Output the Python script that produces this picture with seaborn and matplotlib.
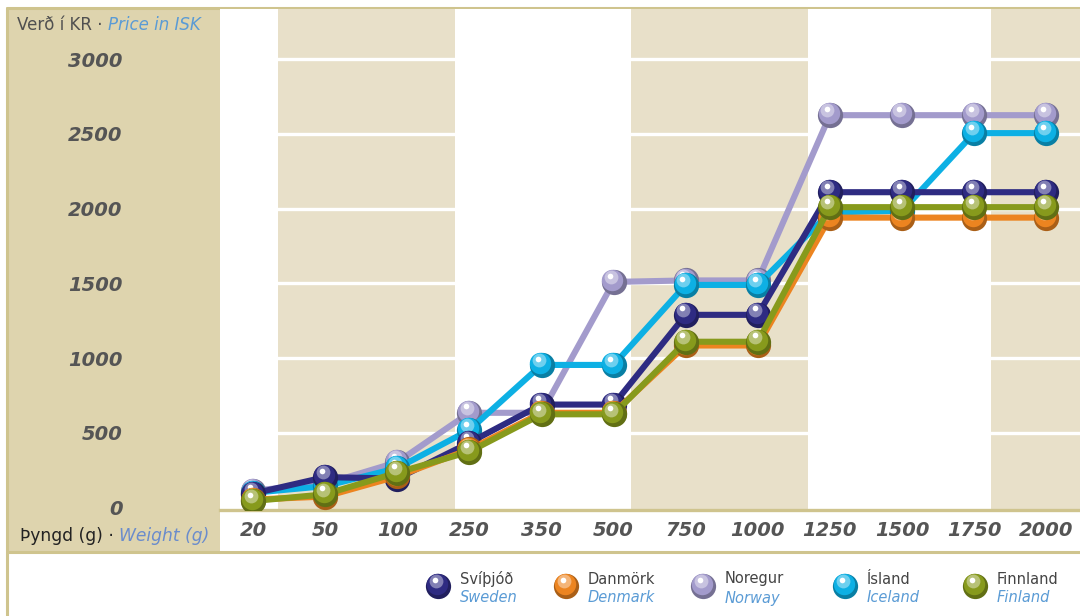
import numpy as np
import pandas as pd
import matplotlib
matplotlib.use('Agg')
import matplotlib.pyplot as plt
import matplotlib.colors as mcolors
from matplotlib.transforms import offset_copy
from matplotlib.lines import Line2D
from matplotlib.patches import Rectangle
import seaborn as sns

# data (price in ISK by weight in grams)
weights = ['20', '50', '100', '250', '350', '500', '750', '1000', '1250', '1500', '1750', '2000']
sweden = [95, 205, 195, 435, 690, 690, 1290, 1290, 2110, 2110, 2110, 2110]
denmark = [55, 75, 210, 390, 635, 635, 1085, 1085, 1940, 1940, 1940, 1940]
norway = [115, 160, 305, 635, 635, 1510, 1520, 1520, 2625, 2625, 2625, 2625]
iceland = [100, 145, 265, 520, 955, 955, 1490, 1490, 1975, 1985, 2505, 2505]
finland = [45, 90, 235, 375, 625, 625, 1110, 1110, 2010, 2010, 2010, 2010]

names_is = ['Svíþjóð', 'Danmörk', 'Noregur', 'Ísland', 'Finnland']
names_en = ['Sweden', 'Denmark', 'Norway', 'Iceland', 'Finland']
series = [sweden, denmark, norway, iceland, finland]
colors = ['#2e2b82', '#ec8420', '#a39bcc', '#0db0e4', '#879a1c']
draw_order = [2, 3, 0, 1, 4]  # Norway, Iceland, Sweden, Denmark, Finland

yticks = [0, 500, 1000, 1500, 2000, 2500, 3000]

rows = []
for n, vals in zip(names_en, series):
    for i, v in enumerate(vals):
        rows.append({'country': n, 'pos': i, 'price': v})
df = pd.DataFrame(rows)

sns.set_theme(style='white')
plt.rcParams['font.family'] = ['DejaVu Sans']

W, H = 1080, 616
fig = plt.figure(figsize=(W / 100, H / 100), dpi=100)
fig.patch.set_facecolor('white')

tan_dark = '#ded4ae'
tan_band = '#e8e0c9'
tan_line = '#cfc48e'
grey = '#555555'
blue = '#5a9bd5'


def fx(px):
    return px / W


def fy(py):
    return 1 - py / H


def sphere(axis, xs, ys, col, size, z):
    rgb = np.array(mcolors.to_rgb(col))
    axis.scatter(xs, ys, s=size, color=rgb * 0.72, lw=0, zorder=z + 0.1)
    axis.scatter(xs, ys, s=size * 0.72, color=col, lw=0, zorder=z + 0.2,
                 transform=offset_copy(axis.transData, fig, x=-0.8, y=1.3, units='points'))
    axis.scatter(xs, ys, s=size * 0.3, color=rgb + (1 - rgb) * 0.4, lw=0, zorder=z + 0.3,
                 transform=offset_copy(axis.transData, fig, x=-1.8, y=3.4, units='points'))
    axis.scatter(xs, ys, s=size * 0.05, color='white', lw=0, zorder=z + 0.4,
                 transform=offset_copy(axis.transData, fig, x=-2.3, y=4.6, units='points'))


# left label panel and frame lines
fig.patches.append(Rectangle((fx(7), fy(552)), fx(220) - fx(7), fy(8) - fy(552),
                             transform=fig.transFigure, facecolor=tan_dark, edgecolor='none', zorder=-5))
fig.lines.append(Line2D([fx(7), fx(1080)], [fy(8), fy(8)], transform=fig.transFigure, color=tan_line, lw=2.2, zorder=-4))
fig.lines.append(Line2D([fx(7), fx(7)], [fy(8), fy(616)], transform=fig.transFigure, color=tan_line, lw=2.2, zorder=-4))
fig.lines.append(Line2D([fx(7), fx(1080)], [fy(552), fy(552)], transform=fig.transFigure, color=tan_line, lw=2.2, zorder=-4))

ax = fig.add_axes([fx(220), fy(510), fx(1080) - fx(220), fy(9) - fy(510)])
ax.set_facecolor('white')
ax.set_xlim(-0.46, 11.47)
ax.set_ylim(-15, 3335)

# background bands
for a, b in [(0.35, 2.8), (5.24, 7.7), (10.24, 12.5)]:
    ax.axvspan(a, b, color=tan_band, lw=0, zorder=0)
for y in yticks[1:]:
    ax.axhline(y, color='white', lw=2.4, zorder=1)

# lines and sphere markers
z = 3
for k in draw_order:
    sub = df[df['country'] == names_en[k]]
    sns.lineplot(data=sub, x='pos', y='price', color=colors[k], lw=4.4, ax=ax,
                 legend=False, sort=False, zorder=z)
    sphere(ax, sub['pos'], sub['price'], colors[k], 330, z)
    z += 1

ax.set_xticks(range(len(weights)))
ax.set_xticklabels(weights)
ax.set_yticks(yticks)
ax.set_yticklabels([str(t) for t in yticks])
ax.tick_params(axis='y', length=0, pad=70, labelsize=14, labelcolor=grey)
ax.tick_params(axis='x', length=0, pad=8, labelsize=14, labelcolor=grey)
for lab in ax.get_xticklabels() + ax.get_yticklabels():
    lab.set_fontweight('bold')
    lab.set_fontstyle('italic')
ax.set_xlabel('')
ax.set_ylabel('')
for s in ['top', 'left', 'right']:
    ax.spines[s].set_visible(False)
ax.spines['bottom'].set_color(tan_line)
ax.spines['bottom'].set_linewidth(2.4)

# axis titles
t = fig.text(fx(17), fy(25), 'Verð í KR · ', fontsize=12, color='#505050', va='center')
fig.canvas.draw()
bb = t.get_window_extent()
fig.text(bb.x1 / W, fy(25), 'Price in ISK', fontsize=12, color=blue, style='italic', va='center')

t = fig.text(fx(20), fy(536), 'Þyngd (g) · ', fontsize=12.3, color='#222222', va='center')
fig.canvas.draw()
bb = t.get_window_extent()
fig.text(bb.x1 / W, fy(536), 'Weight (g)', fontsize=12.3, color='#6a8ccc', style='italic', va='center')

# legend
leg_x = [438, 566, 703, 845, 975]
lax = fig.add_axes([0, 0, 1, 1], facecolor='none')
lax.set_xlim(0, W)
lax.set_ylim(H, 0)
lax.axis('off')
for k in range(5):
    x0 = leg_x[k]
    sphere(lax, [x0], [586], colors[k], 330, 2)
    lax.text(x0 + 22, 579, names_is[k], fontsize=10.5, color='#444444', va='center')
    lax.text(x0 + 22, 598, names_en[k], fontsize=10.5, color=blue, style='italic', va='center')

fig.savefig('out.png', dpi=100)
